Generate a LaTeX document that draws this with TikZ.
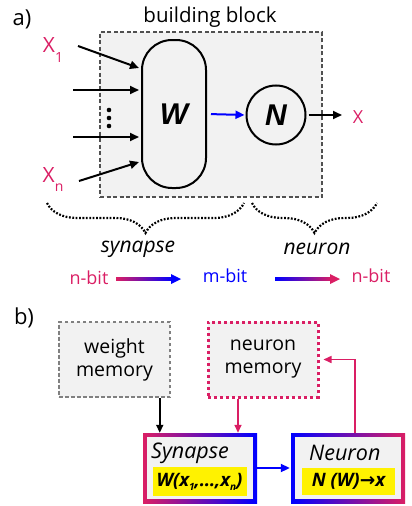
\documentclass[tikz,border=0pt]{standalone}
\usepackage{fontspec}
\setmainfont{Open Sans}
\newfontfamily\djv{DejaVu Sans}
\newfontfamily\lib{Liberation Sans}
\usetikzlibrary{arrows.meta,decorations.pathreplacing,calc}
\definecolor{pinkc}{RGB}{218,30,100}
\definecolor{boxgray}{RGB}{242,242,242}
\definecolor{dashgray}{RGB}{80,80,80}
\begin{document}
\begin{tikzpicture}[x=1pt,y=-1pt,
  fs/.style={font=\fontsize{#1}{#1}\selectfont},
  arr/.style={line width=2pt,-{Triangle[length=9pt,width=8pt]}},
  parr/.style={pinkc,line width=1.5pt,-{Triangle[length=8pt,width=7pt]}},
  barr/.style={blue,line width=2pt,-{Triangle[length=9pt,width=8pt]}},
  brc/.style={decorate,decoration={brace,amplitude=30pt,mirror},line width=2.2pt,dash pattern=on 1.8pt off 1.6pt},
  gradbox/.style 2 args={left color=#1,right color=#2,minimum width=114pt,minimum height=70pt,inner sep=0pt,
    path picture={\fill[boxgray] ([shift={(4pt,4pt)}]path picture bounding box.south west) rectangle ([shift={(-4pt,-4pt)}]path picture bounding box.north east);}},
  ybox/.style={fill=yellow,minimum width=94pt,minimum height=29pt,inner sep=0pt,font=\fontsize{18.5}{18.5}\selectfont\bfseries\itshape},
  memlbl/.style={align=center,font=\fontsize{19.5}{23}\selectfont},
  bigsym/.style={font=\lib\fontsize{30}{30}\selectfont\bfseries\itshape}
]
\useasboundingbox (0,0) rectangle (412,506);

% ---------- part a ----------
\node[fs=22] (lbla) at (22,19) {a)};
\node[fs=20.5] (bb) at (210,17) {building block};
\node[draw=dashgray,line width=1.6pt,dash pattern=on 4pt off 2.5pt,fill=boxgray,
      minimum width=222pt,minimum height=165pt,inner sep=0pt] (blk) at (211,114.5) {};
\node[draw,line width=2pt,rounded corners=30pt,minimum width=64pt,minimum height=148pt,
      fill=boxgray,inner sep=0pt,bigsym] (W) at (174,114) {W};
\node[draw,circle,line width=2pt,minimum size=59pt,inner sep=0pt,fill=boxgray,
      bigsym] (N) at (276,115) {N};

\node[pinkc,fs=21,inner sep=0pt] (x1) at (53,50) {X\raisebox{-10pt}{\fontsize{14}{14}\selectfont 1}};
\node[pinkc,fs=21,inner sep=0pt] (xn) at (53,180) {X\raisebox{-9pt}{\fontsize{14}{14}\selectfont n}};
\node[pinkc,fs=18,inner sep=0pt] (xo) at (358,117) {X};

\coordinate (in1) at (78,46);  \coordinate (t1) at (139,68);
\coordinate (in2) at (73,90);  \coordinate (t2) at (139,90);
\coordinate (in3) at (73,137); \coordinate (t3) at (139,137);
\coordinate (in4) at (79,181); \coordinate (t4) at (139,162);
\draw[arr] (in1) -- (t1);
\draw[arr] (in2) -- (t2);
\draw[arr] (in3) -- (t3);
\draw[arr] (in4) -- (t4);
\fill (109,110) circle (2.3pt) (109,118) circle (2.3pt) (109,126) circle (2.3pt);

\draw[barr,shorten <=4pt,shorten >=1pt] (W.east) -- (N.west);
\coordinate (outend) at (342,115);
\draw[arr,shorten <=2pt] (N.east) -- (outend);

\draw[brc] (47,203) -- (244,203);
\draw[brc] (252,203) -- (377,203);

\node[font=\fontsize{21}{21}\selectfont\itshape] (syn) at (138,249) {synapse};
\node[font=\fontsize{21}{21}\selectfont\itshape] (neur) at (317,249) {neuron};

\node[pinkc,fs=18] (nb1) at (89,278) {n-bit};
\node[blue,fs=18] (mb) at (225,276) {m-bit};
\node[pinkc,fs=18] (nb2) at (371,276) {n-bit};

\coordinate (g1s) at (116,279); \coordinate (g1e) at (181,279);
\coordinate (g2s) at (275,279); \coordinate (g2e) at (340,279);
\shade[left color=pinkc,right color=blue] ($(g1s)+(0,-1.5)$) rectangle ($(g1e)+(-8,1.5)$);
\fill[blue] ($(g1e)+(-10,-5)$) -- (g1e) -- ($(g1e)+(-10,5)$) -- cycle;
\shade[left color=blue,right color=pinkc] ($(g2s)+(0,-1.5)$) rectangle ($(g2e)+(-8,1.5)$);
\fill[pinkc] ($(g2e)+(-10,-5)$) -- (g2e) -- ($(g2e)+(-10,5)$) -- cycle;

% ---------- part b ----------
\node[fs=22] (lblb) at (24,318) {b)};
\node[draw=gray,line width=1.5pt,dash pattern=on 3.5pt off 2.5pt,fill=boxgray,
      minimum width=111pt,minimum height=75pt,inner sep=0pt,memlbl] (wm) at (114.5,359.5) {weight\\memory};
\node[draw=pinkc,line width=3pt,dash pattern=on 3pt off 3pt,fill=boxgray,
      minimum width=110pt,minimum height=75pt,inner sep=0pt,memlbl] (nm) at (263,359.5) {neuron\\memory};

\node[gradbox={pinkc}{blue}] (synb) at (200,468) {};
\node[gradbox={blue}{pinkc}] (neub) at (348,468) {};
\node[font=\fontsize{21.5}{21.5}\selectfont\itshape,anchor=west,inner sep=0pt] (synt) at (151,453) {Synapse};
\node[font=\fontsize{21.5}{21.5}\selectfont\itshape,anchor=west,inner sep=0pt] (neut) at (309,453) {Neuron};
\node[ybox] (wf) at (199.5,481.5) {W(x\raisebox{-4pt}{\fontsize{10}{10}\selectfont 1},…,x\raisebox{-4pt}{\fontsize{10}{10}\selectfont n})};
\node[ybox,minimum width=93pt,minimum height=27pt] (nf) at (348.5,481.5) {N (W){\djv\bfseries →}x};

\draw[line width=1.8pt,-{Triangle[length=8pt,width=7pt]}] ([xshift=-11pt]wm.south east) -- ([xshift=-11pt]wm.south east |- synb.north);
\draw[parr] ([xshift=-25pt]nm.south) -- ([xshift=-25pt]nm.south |- synb.north);
\draw[barr,shorten >=1pt] (synb.east) -- (neub.west);
\draw[parr,shorten >=4pt] ([xshift=7pt]neub.north) |- (nm.east);
\end{tikzpicture}
\end{document}
